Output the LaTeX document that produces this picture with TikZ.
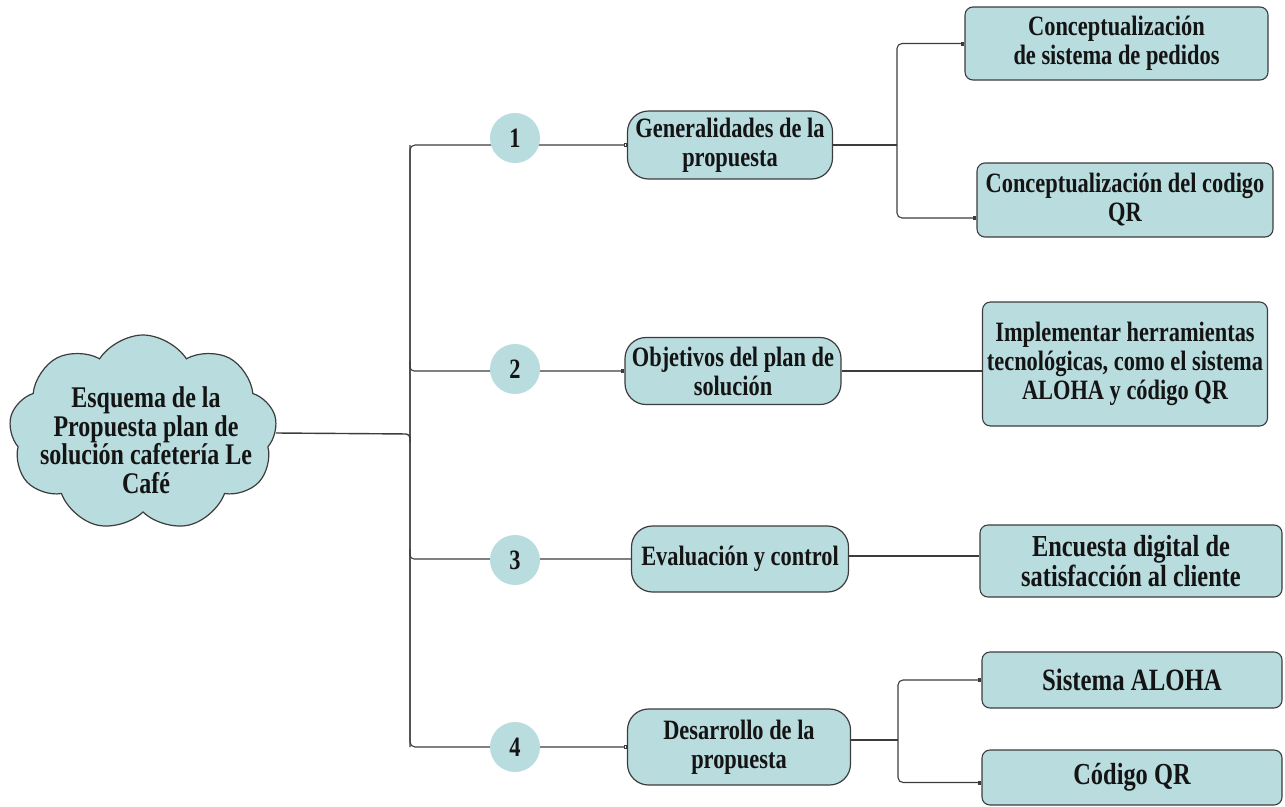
\documentclass[tikz,border=0pt]{standalone}
\usepackage{fontspec}
\setmainfont{Liberation Serif}[FakeStretch=0.8]
\usetikzlibrary{shapes.symbols,backgrounds,arrows.meta}
\definecolor{tealfill}{RGB}{185,220,223}
\definecolor{linegray}{RGB}{60,60,60}
\definecolor{txt}{RGB}{20,20,20}
\begin{document}
\begin{tikzpicture}[x=1pt,y=-1pt,
  every node/.style={text=txt, font=\bfseries\fontsize{28}{29}\selectfont, align=center, inner sep=0pt},
  midbox/.style={draw=linegray, line width=1.2pt, fill=tealfill, rounded corners=21pt, minimum width=#1},
  rightbox/.style={draw=linegray, line width=1.1pt, fill=tealfill, rounded corners=8pt},
  numcirc/.style={circle, fill=tealfill, minimum size=50pt},
  conn/.style={draw=linegray, line width=1.1pt},
  tip/.style={-{Square[open,length=3pt,width=4pt]}}
]
\useasboundingbox (0,0) rectangle (1285,806);

% cloud
\node[cloud, cloud puffs=9, cloud puff arc=115, cloud ignores aspect, draw=linegray, line width=1.2pt, fill=tealfill,
      minimum width=268pt, minimum height=196pt] (cloudshape) at (143,433) {};
\node[font=\bfseries\fontsize{30}{28.5}\selectfont] (root) at (146,440)
  {Esquema de la\\Propuesta plan de\\solución cafetería Le\\Café};

% number circles
\node[numcirc] (c1) at (515,138) {1};
\node[numcirc] (c2) at (515,369) {2};
\node[numcirc] (c3) at (515,560) {3};
\node[numcirc] (c4) at (515,747) {4};

% middle boxes
\node[midbox=205pt, minimum height=68pt] (m1) at (730,145) {Generalidades de la\\propuesta};
\node[midbox=216pt, minimum height=67pt] (m2) at (733,371) {Objetivos del plan de\\solución};
\node[midbox=217pt, minimum height=66pt] (m3) at (740,559) {Evaluación y control};
\node[midbox=223pt, minimum height=76pt] (m4) at (739,747) {Desarrollo de la\\propuesta};

% right boxes
\node[rightbox, minimum width=303pt, minimum height=73pt] (r1) at (1116.5,43.5) {Conceptualización\\de sistema de pedidos};
\node[rightbox, minimum width=296pt, minimum height=74pt] (r2) at (1125,200) {Conceptualización del codigo\\QR};
\node[rightbox, minimum width=285pt, minimum height=124pt] (r3) at (1125,364) {Implementar herramientas\\tecnológicas, como el sistema\\ALOHA y código QR};
\node[rightbox, minimum width=302pt, minimum height=72pt, font=\bfseries\fontsize{30.5}{28}\selectfont] (r4) at (1131,561) {Encuesta digital de\\satisfacción al cliente};
\node[rightbox, minimum width=300pt, minimum height=56pt, font=\bfseries\fontsize{31}{30}\selectfont] (r5) at (1132,680) {Sistema ALOHA};
\node[rightbox, minimum width=300pt, minimum height=55pt, font=\bfseries\fontsize{30.5}{30}\selectfont] (r6) at (1132,777.5) {Código QR};

% junction coordinates
\coordinate (tk) at (410,434);
\coordinate (f1) at (897,145);
\coordinate (f4) at (898,740);

\begin{scope}[on background layer]
  % trunk
  \draw[conn, rounded corners=5pt, tip] (m4.west -| tk) -- (m1.west -| tk) -- (m1.west);
  \draw[conn, rounded corners=5pt, tip] (m1.west -| tk) -- (m4.west -| tk) -- (m4.west);
  \draw[conn, rounded corners=4pt, tip] ([yshift=10pt]m2.west -| tk) -- (m2.west -| tk) -- (m2.west);
  \draw[conn, rounded corners=4pt] ([yshift=10pt]m3.west -| tk) -- (m3.west -| tk) -- (m3.west);
  \draw[conn, line width=1.4pt, rounded corners=4pt] (cloudshape.east) -- (tk) -- ([yshift=-8pt]tk);
  % fork 1
  \draw[conn] (m1.east) -- (f1);
  \draw[conn, rounded corners=5pt, tip] (f1) -- (r1.west -| f1) -- (r1.west);
  \draw[conn, rounded corners=5pt, tip] (f1) -- ([yshift=-18pt]r2.west -| f1) -- ([yshift=-18pt]r2.west);
  % direct links
  \draw[conn] (m2.east) -- (m2.east -| r3.west);
  \draw[conn] ([yshift=3pt]m3.east) -- ([yshift=3pt]m3.east -| r4.west);
  % fork 4
  \draw[conn] ([yshift=7pt]m4.east) -- (f4);
  \draw[conn, rounded corners=5pt, tip] (f4) -- (r5.west -| f4) -- (r5.west);
  \draw[conn, rounded corners=5pt, tip] (f4) -- ([yshift=-5pt]r6.west -| f4) -- ([yshift=-5pt]r6.west);
\end{scope}
\end{tikzpicture}
\end{document}
